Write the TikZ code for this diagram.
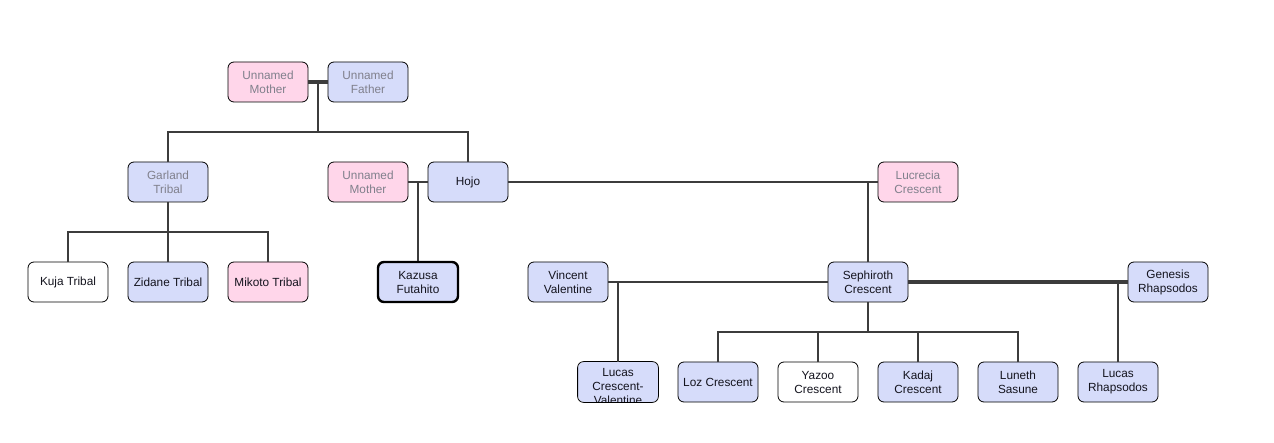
\documentclass[tikz,border=0pt]{standalone}
\usepackage{fontspec}
\setmainfont{Liberation Sans}
\usetikzlibrary{calc}
\definecolor{blueF}{RGB}{214,220,250}
\definecolor{pinkF}{RGB}{255,214,234}
\definecolor{lineC}{RGB}{60,60,60}
\definecolor{grayT}{RGB}{128,128,140}
\definecolor{textC}{RGB}{20,20,30}
\begin{document}
\begin{tikzpicture}[x=1pt,y=-1pt,
  person/.style={draw=black, rounded corners=6pt, minimum width=80pt, minimum height=40pt,
    inner sep=1pt, align=center, font=\fontsize{11.8}{14}\selectfont, text=textC, fill=blueF, line width=0.8pt},
  pink/.style={fill=pinkF},
  white/.style={fill=white},
  faded/.style={text=grayT},
  focus/.style={line width=2.4pt},
  conn/.style={draw=lineC, line width=1.8pt},
  marr/.style={draw=lineC, line width=3.6pt}]
\useasboundingbox (0,0) rectangle (1274,443);
% row 1
\node[person,pink,faded] (um) at (268,82) {Unnamed\\Mother};
\node[person,faded] (uf) at (368,82) {Unnamed\\Father};
% row 2
\node[person,faded] (garland) at (168,182) {Garland\\Tribal};
\node[person,pink,faded] (um2) at (368,182) {Unnamed\\Mother};
\node[person] (hojo) at (468,182) {Hojo};
\node[person,pink,faded] (lucrecia) at (918,182) {Lucrecia\\Crescent};
% row 3
\node[person,white] (kuja) at (68,282) {Kuja Tribal};
\node[person] (zidane) at (168,282) {Zidane Tribal};
\node[person,pink] (mikoto) at (268,282) {Mikoto Tribal};
\node[person,focus] (kazusa) at (418,282) {Kazusa\\Futahito};
\node[person] (vincent) at (568,282) {Vincent\\Valentine};
\node[person] (seph) at (868,282) {Sephiroth\\Crescent};
\node[person] (genesis) at (1168,282) {Genesis\\Rhapsodos};
% row 4
\node[person,draw=none] (lucascv) at (618,382) {};
\begin{scope}
  \clip[rounded corners=6pt] (lucascv.south west) rectangle (lucascv.north east);
  \node[align=center, font=\fontsize{11.8}{14}\selectfont, text=textC] (lucascvt) at (618,386) {Lucas\\Crescent-\\Valentine};
\end{scope}
\draw[line width=0.8pt, rounded corners=6pt] (lucascv.south west) rectangle (lucascv.north east);
\node[person] (loz) at (718,382) {Loz Crescent};
\node[person,white] (yazoo) at (818,382) {Yazoo\\Crescent};
\node[person] (kadaj) at (918,382) {Kadaj\\Crescent};
\node[person] (luneth) at (1018,382) {Luneth\\Sasune};
\node[person] (lucasr) at (1118,382) {Lucas\\Rhapsodos};
% connectors
\draw[marr] (um.east) -- (uf.west);
\coordinate (m1) at ($(um.east)!0.5!(uf.west)$);
\draw[conn] (m1) -- ++(0,50) coordinate (m1b);
\draw[conn] (garland.north) -- (garland.north |- m1b) -- (hojo.north |- m1b) -- (hojo.north);
\draw[conn] (garland.south) -- ++(0,30) coordinate (gj);
\draw[conn] (kuja.north) -- (kuja.north |- gj) -- (mikoto.north |- gj) -- (mikoto.north);
\draw[conn] (zidane.north) -- (zidane.north |- gj);
\draw[conn] (um2.east) -- (hojo.west);
\draw[conn] (kazusa.north) -- (kazusa.north |- hojo.west);
\draw[conn] (hojo.east) -- (lucrecia.west);
\draw[conn] (seph.north) -- (seph.north |- hojo.east);
\draw[conn] (vincent.east) -- (seph.west);
\draw[conn] (lucascv.north) -- (lucascv.north |- vincent.east);
\draw[marr] (seph.east) -- (genesis.west);
\draw[conn] (lucasr.north) -- (lucasr.north |- genesis.west);
\draw[conn] (seph.south) -- ++(0,30) coordinate (sj);
\draw[conn] (loz.north) -- (loz.north |- sj) -- (luneth.north |- sj) -- (luneth.north);
\draw[conn] (yazoo.north) -- (yazoo.north |- sj);
\draw[conn] (kadaj.north) -- (kadaj.north |- sj);
\end{tikzpicture}
\end{document}
